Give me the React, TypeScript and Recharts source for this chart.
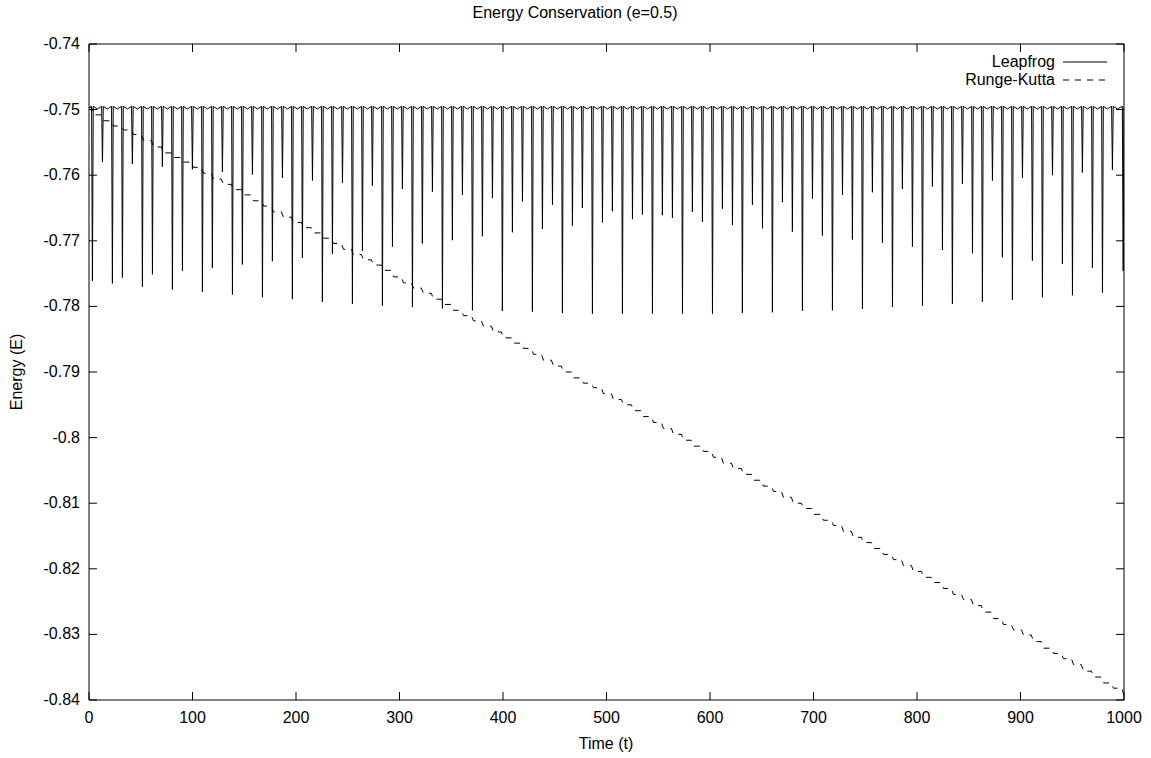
import { Line, LineChart, XAxis, YAxis } from "recharts";

const FONT = '"Liberation Sans", Arial, Helvetica, sans-serif';
const INK = "#000";

const X_TICKS = [0, 100, 200, 300, 400, 500, 600, 700, 800, 900, 1000];
const Y_TICKS = [-0.84, -0.83, -0.82, -0.81, -0.8, -0.79, -0.78, -0.77, -0.76, -0.75, -0.74];

// leapfrog: flat top with little shoulders, one dip per pericentre passage
const LF_BASE = -0.7499;
const LF_SHOULDER = -0.7495;
const START_E = -0.7497;

const PERI_T = [
  3.3, 13.0, 22.6, 32.3, 41.9, 51.6, 61.3, 70.9, 80.6, 90.3,
  99.9, 109.6, 119.2, 128.9, 138.6, 148.2, 157.9, 167.6, 177.2, 186.9,
  196.5, 206.2, 215.9, 225.5, 235.2, 244.9, 254.5, 264.2, 273.8, 283.5,
  293.2, 302.8, 312.5, 322.1, 331.8, 341.5, 351.1, 360.8, 370.5, 380.1,
  389.8, 399.4, 409.1, 418.8, 428.4, 438.1, 447.8, 457.4, 467.1, 476.7,
  486.4, 496.1, 505.7, 515.4, 525.1, 534.7, 544.4, 554.0, 563.7, 573.4,
  583.0, 592.7, 602.4, 612.0, 621.7, 631.3, 641.0, 650.7, 660.3, 670.0,
  679.6, 689.3, 699.0, 708.6, 718.3, 728.0, 737.6, 747.3, 756.9, 766.6,
  776.3, 785.9, 795.6, 805.3, 814.9, 824.6, 834.2, 843.9, 853.6, 863.2,
  872.9, 882.5, 892.2, 901.9, 911.5, 921.2, 930.9, 940.5, 950.2, 959.8,
  969.5, 979.2, 988.8, 999.2,
];

const LF_DIP = [
  -0.7761, -0.758, -0.7765, -0.7756, -0.7583, -0.777, -0.7751, -0.7587, -0.7774, -0.7746,
  -0.7591, -0.7778, -0.7741, -0.7595, -0.7782, -0.7736, -0.7599, -0.7786, -0.7731, -0.7604,
  -0.7789, -0.7726, -0.7608, -0.7793, -0.772, -0.7612, -0.7796, -0.7715, -0.7616, -0.7799,
  -0.7709, -0.7621, -0.7801, -0.7704, -0.7625, -0.7803, -0.7699, -0.763, -0.7806, -0.7693,
  -0.7635, -0.7807, -0.7687, -0.764, -0.7808, -0.7682, -0.7645, -0.781, -0.7677, -0.765,
  -0.7811, -0.7672, -0.7655, -0.7811, -0.7667, -0.766, -0.7811, -0.7661, -0.7665, -0.7811,
  -0.7656, -0.7671, -0.7811, -0.7651, -0.7676, -0.781, -0.7645, -0.7681, -0.7809, -0.7641,
  -0.7686, -0.7807, -0.7636, -0.7692, -0.7806, -0.763, -0.7698, -0.7804, -0.7626, -0.7703,
  -0.7801, -0.7621, -0.7709, -0.7799, -0.7617, -0.7714, -0.7796, -0.7613, -0.7719, -0.7793,
  -0.7608, -0.7725, -0.779, -0.7604, -0.773, -0.7786, -0.76, -0.7735, -0.7783, -0.7596,
  -0.7741, -0.7779, -0.7592, -0.7746,
];

// runge-kutta: energy level after each pericentre passage
const RK_LEVEL = [
  -0.7508, -0.7517, -0.7525, -0.7531, -0.7538, -0.7547, -0.7557, -0.7566, -0.7573, -0.758,
  -0.7588, -0.7597, -0.7606, -0.7614, -0.7622, -0.763, -0.7639, -0.7647, -0.7656, -0.7664,
  -0.7672, -0.768, -0.7688, -0.7696, -0.7704, -0.7713, -0.7721, -0.7729, -0.7737, -0.7745,
  -0.7755, -0.7764, -0.7772, -0.778, -0.7789, -0.7797, -0.7806, -0.7814, -0.7822, -0.783,
  -0.7839, -0.7848, -0.7856, -0.7864, -0.7873, -0.7882, -0.7891, -0.79, -0.7909, -0.7917,
  -0.7924, -0.7933, -0.7942, -0.795, -0.7959, -0.7968, -0.7977, -0.7986, -0.7995, -0.8004,
  -0.8013, -0.8021, -0.803, -0.8039, -0.8047, -0.8056, -0.8065, -0.8074, -0.8082, -0.8091,
  -0.81, -0.8108, -0.8117, -0.8126, -0.8134, -0.8143, -0.8152, -0.816, -0.8169, -0.8178,
  -0.8186, -0.8195, -0.8204, -0.8213, -0.8221, -0.823, -0.8239, -0.8247, -0.8256, -0.8266,
  -0.8276, -0.8285, -0.8293, -0.8301, -0.8311, -0.8321, -0.8329, -0.8337, -0.8346, -0.8356,
  -0.8365, -0.8374, -0.8382, -0.8396,
];

const leapfrog = [{ t: 0, e: START_E }];
PERI_T.forEach((t, i) => {
  leapfrog.push({ t: t - 0.8, e: LF_SHOULDER });
  leapfrog.push({ t, e: LF_DIP[i] });
  leapfrog.push({ t: t + 0.8, e: LF_SHOULDER });
  leapfrog.push({ t: t + 4.8, e: LF_BASE });
});

const rk = [{ t: 0, e: START_E }];
PERI_T.forEach((t, i) => {
  rk.push({ t: t - 1, e: i === 0 ? START_E : RK_LEVEL[i - 1] });
  rk.push({ t: t + 1, e: RK_LEVEL[i] });
});

const fmtY = (v: number) => String(Number(v.toFixed(2)));
const txt = { fontFamily: FONT, fontSize: 16, fill: INK };

// gnuplot style: ticks point into the plot, mirrored on top/right
const BottomTick = ({ x, y, payload }: any) => (
  <g>
    <line x1={x} x2={x} y1={y} y2={y - 8} stroke={INK} />
    <text x={x} y={y + 23} textAnchor="middle" {...txt}>{payload.value}</text>
  </g>
);
const TopTick = ({ x, y }: any) => <line x1={x} x2={x} y1={y} y2={y + 8} stroke={INK} />;
const LeftTick = ({ x, y, payload }: any) => (
  <g>
    <line x1={x} x2={x + 8} y1={y} y2={y} stroke={INK} />
    <text x={x - 9} y={y + 5} textAnchor="end" {...txt}>{fmtY(payload.value)}</text>
  </g>
);
const RightTick = ({ x, y }: any) => <line x1={x} x2={x - 8} y1={y} y2={y} stroke={INK} />;

export default function App() {
  return (
    <div style={{ position: "absolute", left: 0, top: 0, width: 1151, height: 758, background: "#fff" }}>
      <LineChart width={1151} height={758} margin={{ top: 43, right: 26, bottom: 0, left: 0 }}>
        <XAxis xAxisId="b" dataKey="t" type="number" domain={[0, 1000]} ticks={X_TICKS} interval={0}
          allowDataOverflow height={58} tickSize={0} tickMargin={0} tick={BottomTick} axisLine={{ stroke: INK }} />
        <XAxis xAxisId="top" orientation="top" dataKey="t" type="number" domain={[0, 1000]} ticks={X_TICKS}
          interval={0} allowDataOverflow height={1} tickSize={0} tickMargin={0} tick={TopTick} axisLine={{ stroke: INK }} />
        <YAxis yAxisId="l" type="number" domain={[-0.84, -0.74]} ticks={Y_TICKS} interval={0} allowDataOverflow
          width={89} tickSize={0} tickMargin={0} tick={LeftTick} axisLine={{ stroke: INK }} />
        <YAxis yAxisId="r" orientation="right" type="number" domain={[-0.84, -0.74]} ticks={Y_TICKS} interval={0}
          allowDataOverflow width={1} tickSize={0} tickMargin={0} tick={RightTick} axisLine={{ stroke: INK }} />
        <Line xAxisId="b" yAxisId="l" data={leapfrog} dataKey="e" type="linear" stroke={INK} strokeWidth={1}
          dot={false} activeDot={false} isAnimationActive={false} />
        <Line xAxisId="b" yAxisId="l" data={rk} dataKey="e" type="linear" stroke={INK} strokeWidth={1}
          strokeDasharray="6 6" dot={false} activeDot={false} isAnimationActive={false} />
      </LineChart>
      <svg width={1151} height={758} style={{ position: "absolute", left: 0, top: 0, pointerEvents: "none" }}>
        <text x={575} y={18} textAnchor="middle" {...txt}>Energy Conservation (e=0.5)</text>
        <text x={606} y={749} textAnchor="middle" {...txt}>Time (t)</text>
        <text x={22} y={372} textAnchor="middle" transform="rotate(-90 22 372)" {...txt}>Energy (E)</text>
        <text x={1055} y={67} textAnchor="end" {...txt}>Leapfrog</text>
        <line x1={1063} x2={1107} y1={62} y2={62} stroke={INK} />
        <text x={1055} y={85} textAnchor="end" {...txt}>Runge-Kutta</text>
        <line x1={1063} x2={1107} y1={80} y2={80} stroke={INK} strokeDasharray="6 6" />
      </svg>
    </div>
  );
}
